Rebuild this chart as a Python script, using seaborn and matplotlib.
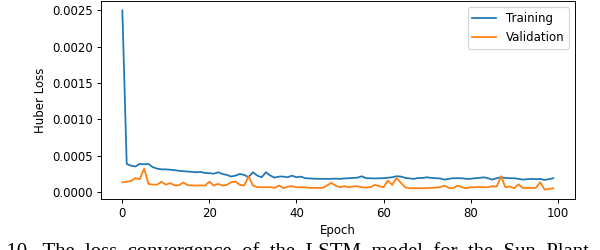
import matplotlib
matplotlib.use("Agg")
import matplotlib.pyplot as plt
import seaborn as sns
import numpy as np

epochs = list(range(100))

training = [
    0.00250, 0.000385, 0.00036, 0.00035, 0.000385, 0.00038, 0.000385, 0.00034, 0.00032, 0.00031,
    0.00031, 0.000305, 0.0003, 0.00029, 0.000285, 0.00028, 0.000275, 0.00027, 0.000275, 0.00026,
    0.000257, 0.00025, 0.00027, 0.000247, 0.000233, 0.000211, 0.000224, 0.000247, 0.000233, 0.000201,
    0.00027, 0.000224, 0.000201, 0.00027, 0.000224, 0.000197, 0.000211, 0.000211, 0.000201, 0.000224,
    0.000201, 0.000211, 0.000188, 0.000185, 0.000182, 0.00018, 0.00018, 0.000179, 0.00018, 0.000182,
    0.000179, 0.000185, 0.000188, 0.000192, 0.000195, 0.000215, 0.000188, 0.000188, 0.000185, 0.000188,
    0.000188, 0.000195, 0.000201, 0.000215, 0.000211, 0.000192, 0.000185, 0.000179, 0.000192, 0.000192,
    0.000201, 0.000192, 0.000188, 0.000185, 0.000169, 0.000179, 0.000188, 0.000188, 0.000188, 0.000179,
    0.000179, 0.000188, 0.000192, 0.000201, 0.000188, 0.000169, 0.000188, 0.000201, 0.000192, 0.000188,
    0.000188, 0.000179, 0.000169, 0.000175, 0.000179, 0.000175, 0.000179, 0.000165, 0.000175, 0.000188,
]

validation = [
    0.000133, 0.00014, 0.00015, 0.00019, 0.000175, 0.00032, 0.00011, 0.0001, 0.0001, 0.00014,
    0.0001, 0.00012, 0.00009, 0.00009, 0.00013, 0.00009, 0.00009, 0.000087, 0.00009, 0.000087,
    0.00014, 0.000087, 0.00011, 0.000087, 0.000096, 0.000133, 0.000142, 0.000096, 0.000087, 0.000215,
    0.000087, 0.000064, 0.000064, 0.000064, 0.000064, 0.000055, 0.000087, 0.00005, 0.000073, 0.000078,
    0.000064, 0.000064, 0.000064, 0.000055, 0.000055, 0.000055, 0.000055, 0.000087, 0.000124, 0.000087,
    0.000064, 0.000078, 0.000064, 0.000073, 0.000078, 0.000064, 0.00006, 0.000064, 0.000096, 0.000078,
    0.000064, 0.000156, 0.000096, 0.00019, 0.000124, 0.000064, 0.00005, 0.00005, 0.00005, 0.00005,
    0.000052, 0.000055, 0.00006, 0.000064, 0.000087, 0.000055, 0.00005, 0.000087, 0.000064, 0.00005,
    0.000064, 0.000064, 0.000068, 0.000064, 0.000064, 0.000078, 0.000073, 0.000215, 0.000064, 0.000073,
    0.00005, 0.000105, 0.000055, 0.000055, 0.000055, 0.000055, 0.000133, 0.000032, 0.000041, 0.00005,
]

series_labels = ["Training", "Validation"]
colors = ["#1f77b4", "#ff7f0e"]
x_ticks = [0, 20, 40, 60, 80, 100]
y_ticks = [0.0, 0.0005, 0.0010, 0.0015, 0.0020, 0.0025]
y_tick_labels = ["0.0000", "0.0005", "0.0010", "0.0015", "0.0020", "0.0025"]

DPI = 85
fig = plt.figure(figsize=(600 / DPI, 250 / DPI), dpi=DPI)
ax = fig.add_axes([0.168, 0.206, 0.790, 0.788])

sns.lineplot(x=epochs, y=training, ax=ax, color=colors[0], label=series_labels[0], linewidth=1.5)
sns.lineplot(x=epochs, y=validation, ax=ax, color=colors[1], label=series_labels[1], linewidth=1.5)

ax.set_xlabel("Epoch", fontsize=10)
ax.set_ylabel("Huber Loss", fontsize=10)
ax.set_xticks(x_ticks)
ax.set_yticks(y_ticks)
ax.set_yticklabels(y_tick_labels)
ax.tick_params(labelsize=10)
ax.legend(loc="upper right", fontsize=10)

fig.text(-0.062, -0.028,
         "Fig.  10.  The  loss  convergence  of  the  LSTM  model  for  the  Sun  Plant  dataset.",
         family="Liberation Serif", fontsize=17.6, va="baseline", ha="left")

fig.savefig("out.png", dpi=DPI)
